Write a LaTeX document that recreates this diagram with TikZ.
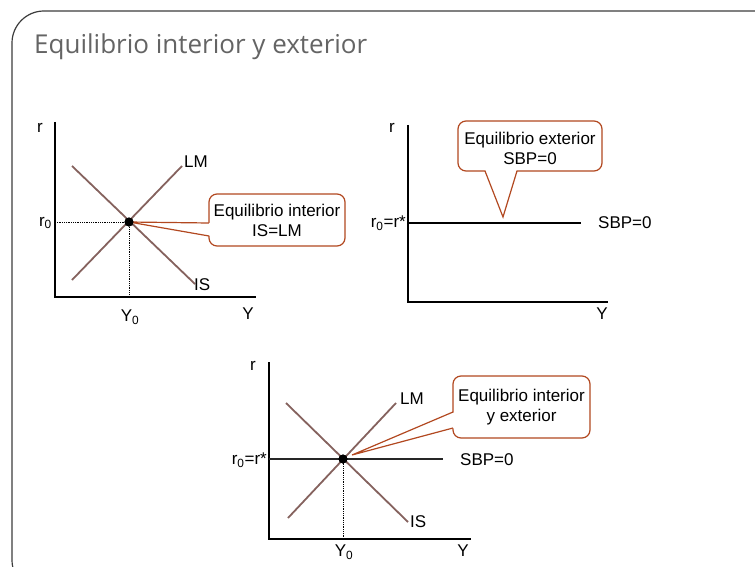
\documentclass[tikz,border=0pt]{standalone}
\usepackage{fontspec}
\setmainfont{Liberation Sans}
\newfontfamily\titlefont{Open Sans}
\usepackage{xcolor}
\usepackage{tikz}
\definecolor{curvecol}{RGB}{133,98,94}
\definecolor{callcol}{RGB}{178,72,32}
\definecolor{titlecol}{RGB}{100,100,100}
\definecolor{framecol}{RGB}{60,60,60}

\begin{document}
\begin{tikzpicture}[x=1pt, y=-1pt,
  axis/.style={line width=2pt, black},
  curve/.style={line width=1.8pt, curvecol},
  guide/.style={densely dotted, line width=0.8pt},
  lbl/.style={font=\fontsize{17}{18}\selectfont, inner sep=0pt},
  eqdot/.style={circle, fill=black, inner sep=0pt, minimum size=9pt},
  callout/.style={draw=callcol, line width=1.2pt, fill=white, rounded corners=8pt,
    align=center, font=\fontsize{17}{20}\selectfont, inner sep=0pt},
  tail/.style={draw=callcol, line width=1.2pt, line join=miter}]
  \useasboundingbox (0,0) rectangle (755,567);
  \draw[framecol, line width=1.2pt, rounded corners=32pt] (12,11) rectangle (790,592);
  \node[anchor=base west, inner sep=0pt, text=titlecol,
    font=\titlefont\fontsize{26}{30}\selectfont] (title) at (34,54) {Equilibrio interior y exterior};

  % interior
  \draw[axis] (55,122) -- (55,297) -- (256,297);
  \draw[curve] (72,280) -- (182,166);
  \draw[curve] (72,166) -- (195,284);
  \node[eqdot] (E1) at (129,222) {};
  \draw[guide] (55,222) -- (E1.center) -- (129,297);
  \node[lbl] (r1) at (40,128) {r};
  \node[lbl, anchor=east] (r01) at (52,223) {r\textsubscript{0}};
  \node[lbl, anchor=west] (LM1) at (184,162) {LM};
  \node[lbl, anchor=west] (IS1) at (194,285) {IS};
  \node[lbl] (Y01) at (130,317) {Y\textsubscript{0}};
  \node[lbl] (Y1) at (248,314) {Y};
  \node[callout, minimum width=136pt, minimum height=52pt] (C1) at (277,220)
    {Equilibrio interior\\IS=LM};
  \coordinate (t1a) at (209,223);
  \coordinate (t1b) at (209,236);
  \fill[white] ([xshift=2pt]t1a) -- (E1.center) -- ([xshift=2pt]t1b) -- cycle;
  \draw[tail] (t1a) -- (E1.center) -- (t1b);
  \node[eqdot] at (E1) {};

  % exterior
  \draw[axis] (408,125) -- (408,302) -- (608,302);
  \draw[axis] (408,223) -- (581,223);
  \node[lbl] (r2) at (392,128) {r};
  \node[lbl, anchor=east] (r02) at (406,223) {r\textsubscript{0}=r*};
  \node[lbl, anchor=west] (SBP2) at (598,223) {SBP=0};
  \node[lbl] (Y2) at (602,314) {Y};
  \node[callout, minimum width=144pt, minimum height=50pt] (C2) at (530,146)
    {\rule{0pt}{18pt}Equilibrio exterior\\SBP=0};
  \coordinate (t2a) at (485,171);
  \coordinate (t2b) at (517,171);
  \coordinate (t2) at (503,217);
  \fill[white] ([yshift=2pt]t2a) -- (t2) -- ([yshift=2pt]t2b) -- cycle;
  \draw[tail] (t2a) -- (t2) -- (t2b);

  % interior y exterior
  \draw[axis] (269,362) -- (269,539) -- (471,539);
  \draw[curve] (288,518) -- (396,403);
  \draw[curve] (286,403) -- (408,522);
  \draw[axis, black!85] (269,459) -- (443,459);
  \node[eqdot] (E3) at (343,459) {};
  \draw[guide] (E3.center) -- (343,539);
  \node[lbl] (r3) at (253,366) {r};
  \node[lbl, anchor=east] (r03) at (267,460) {r\textsubscript{0}=r*};
  \node[lbl, anchor=west] (LM3) at (400,399) {LM};
  \node[lbl, anchor=west] (IS3) at (410,522) {IS};
  \node[lbl, anchor=west] (SBP3) at (460,460) {SBP=0};
  \node[lbl] (Y03) at (344,552) {Y\textsubscript{0}};
  \node[lbl] (Y3) at (463,551) {Y};
  \node[callout, minimum width=137pt, minimum height=62pt] (C3) at (521.5,407)
    {Equilibrio interior\\y exterior};
  \coordinate (t3a) at (453,412);
  \coordinate (t3b) at (453,428);
  \coordinate (t3) at (352,455);
  \fill[white] ([xshift=2pt]t3a) -- (t3) -- ([xshift=2pt]t3b) -- cycle;
  \draw[tail] (t3a) -- (t3) -- (t3b);
  \node[eqdot] at (E3) {};
\end{tikzpicture}
\end{document}
